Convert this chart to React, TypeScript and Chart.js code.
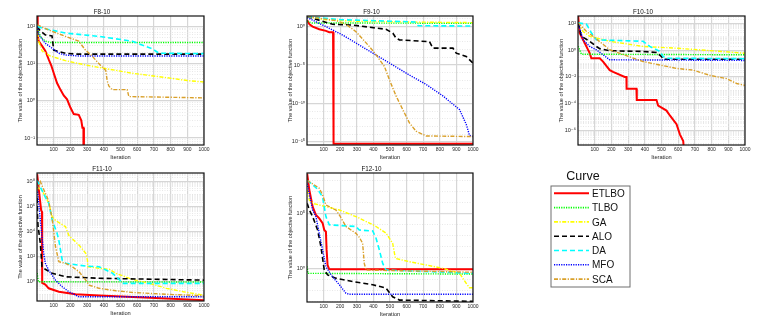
import React, { useEffect, useRef } from 'react';
import { Chart, registerables } from 'chart.js';
Chart.register(...registerables);

type P = [number, number];

const SERIES = ['ETLBO', 'TLBO', 'GA', 'ALO', 'DA', 'MFO', 'SCA'];
const ITER_TICKS = [100, 200, 300, 400, 500, 600, 700, 800, 900, 1000];

// ---- F8-10 ----
const F8_ETLBO: P[] = [[1,190],[4,60],[10,40],[30,30],[50,22],[70,13],[85,9],[100,5.6],[120,3],[140,2],[160,1.4],[180,1.1],[200,0.66],[220,0.44],[250,0.42],[265,0.3],[272,0.19],[278,0.19],[281,1e-6]];
const F8_TLBO: P[] = [[1,110],[10,70],[25,50],[50,40],[80,37],[1000,37]];
const F8_GA: P[] = [[1,110],[10,40],[30,22],[80,16],[170,12],[300,9],[400,7.5],[570,5.5],[775,4.2],[900,3.5],[1000,3.2]];
const F8_ALO: P[] = [[1,100],[20,75],[50,59],[90,55],[100,23],[170,19],[230,18],[1000,18]];
const F8_DA: P[] = [[1,100],[30,90],[170,66],[370,54],[570,40],[690,25],[730,19],[1000,18.5]];
const F8_MFO: P[] = [[1,100],[10,60],[50,35],[90,26],[130,19],[170,17],[250,16],[1000,16]];
const F8_SCA: P[] = [[1,110],[70,80],[170,54],[250,40],[290,23],[330,16],[370,10],[412,6.5],[420,3.5],[430,2.5],[450,2],[540,2],[550,1.3],[1000,1.2]];

// ---- F9-10 ----
const F9_ETLBO: P[] = [[1,7],[15,2],[34,1],[74,0.45],[114,0.28],[134,0.19],[157,0.19],[160,6e-16],[1000,6e-16]];
const F9_TLBO: P[] = [[1,5],[30,3],[1000,2.7]];
const F9_GA: P[] = [[1,20],[100,8],[300,5],[600,4],[1000,3.3]];
const F9_ALO: P[] = [[1,20],[154,2],[275,1.6],[476,0.45],[517,0.14],[537,0.03],[557,0.019],[738,0.011],[758,1.6e-3],[879,1.6e-3],[899,3.5e-4],[959,1.3e-4],[1000,1.8e-5]];
const F9_DA: P[] = [[1,20],[200,8],[500,5],[650,4],[670,1.3],[1000,1.2]];
const F9_MFO: P[] = [[1,15],[114,1],[215,0.08],[315,4e-3],[416,2e-4],[517,1e-5],[617,5e-7],[718,3e-8],[818,1e-9],[919,1.6e-11],[959,2e-13],[979,7e-15],[1000,5e-15]];
const F9_SCA: P[] = [[1,20],[175,6],[235,2],[295,0.22],[376,2.5e-3],[416,2.2e-4],[466,6.8e-6],[496,1.3e-7],[537,9e-10],[577,1.6e-11],[617,3e-13],[657,2.5e-14],[718,6e-15],[1000,5e-15]];

// ---- F10-10 ----
const F10_ETLBO: P[] = [[1,360],[10,19],[40,3.4],[70,0.6],[80,0.25],[130,0.25],[150,0.14],[190,0.032],[210,0.024],[280,0.01],[290,0.01],[291,1.3e-3],[350,1.3e-3],[352,1.9e-4],[470,1.9e-4],[480,7e-5],[530,3e-5],[550,1.3e-5],[590,2.9e-6],[610,5e-7],[630,1.6e-7],[645,1e-9]];
const F10_TLBO: P[] = [[1,2],[20,0.5],[1000,0.45]];
const F10_GA: P[] = [[1,110],[30,25],[70,11],[190,4.6],[390,1.9],[590,1.4],[790,0.93],[1000,0.59]];
const F10_ALO: P[] = [[1,110],[20,11],[70,4.6],[110,1.9],[130,1.3],[190,0.9],[390,0.8],[470,0.66],[500,0.33],[510,0.21],[1000,0.21]];
const F10_DA: P[] = [[1,110],[50,90],[80,20],[110,6],[390,4.6],[430,1.9],[490,0.8],[510,0.33],[530,0.25],[1000,0.23]];
const F10_MFO: P[] = [[1,110],[30,6],[70,1.9],[110,1.07],[150,0.45],[190,0.19],[1000,0.17]];
const F10_SCA: P[] = [[1,110],[50,26],[90,11],[190,1.07],[390,0.14],[490,0.078],[590,0.043],[690,0.032],[790,0.013],[890,7.4e-3],[950,3.2e-3],[1000,2.3e-3]];

// ---- F11-10 ----
const F11_ETLBO: P[] = [[1,4e8],[10,3e7],[25,5e5],[30,4e5],[31,0.8],[50,0.6],[70,0.3],[131,0.16],[231,0.1],[372,0.08],[574,0.06],[1000,0.034]];
const F11_TLBO: P[] = [[1,5],[8,1],[1000,0.95]];
const F11_GA: P[] = [[1,4e7],[30,2e7],[70,2e6],[91,1.6e5],[111,8e4],[171,2.5e4],[191,5e3],[252,850],[292,190],[302,54],[304,16],[372,12],[433,10],[473,4.7],[574,1.5],[674,0.74],[775,0.3],[876,0.16],[1000,0.085]];
const F11_ALO: P[] = [[1,5e6],[3,2e5],[6,3e4],[20,1.2e3],[30,16],[50,10],[91,4.7],[171,2.5],[372,1.9],[1000,1.35]];
const F11_DA: P[] = [[1,1.3e8],[30,2e7],[50,6e6],[70,2e6],[91,8.5e4],[121,7e3],[131,2e3],[151,54],[171,30],[292,18],[372,16],[453,4.7],[493,1.5],[513,0.74],[1000,0.74]];
const F11_MFO: P[] = [[1,4e7],[10,2e6],[20,8e4],[30,4e3],[40,190],[50,30],[70,8.5],[111,1.35],[151,0.4],[191,0.16],[231,0.085],[252,0.063],[1000,0.063]];
const F11_SCA: P[] = [[1,2e7],[20,1e8],[50,1.2e7],[70,3e6],[91,1e5],[111,630],[131,40],[171,30],[211,16],[252,6.3],[292,1.35],[312,0.54],[372,0.3],[473,0.19],[574,0.14],[775,0.1],[1000,0.076]];

// ---- F12-10 ----
const F12_ETLBO: P[] = [[1,4e8],[14,1.3e7],[34,4e5],[54,7e4],[74,3.5e4],[94,1.3e4],[104,3e3],[114,2.1e3],[118,50],[124,2],[134,0.81],[1000,0.81]];
const F12_TLBO: P[] = [[1,1.5],[5,0.35],[1000,0.3]];
const F12_GA: P[] = [[1,1.3e7],[14,1.6e6],[34,8e5],[114,4e5],[195,2e5],[295,5e4],[376,1.3e4],[416,6.3e3],[476,1.6e3],[516,190],[527,23],[533,8],[617,4],[718,2],[818,1],[919,0.35],[959,0.044],[979,0.017],[1000,0.017]];
const F12_ALO: P[] = [[1,8e5],[14,2e5],[34,5e4],[64,3e3],[84,93],[104,0.7],[124,0.25],[174,0.126],[275,0.063],[396,0.032],[476,0.016],[516,2.6e-3],[557,1.3e-3],[1000,1e-3]];
const F12_DA: P[] = [[1,1e8],[34,4e7],[64,1.5e7],[94,3e6],[114,5e4],[134,9e3],[295,6.3e3],[315,3e3],[396,2.5e3],[416,540],[436,47],[456,2.8],[476,0.7],[1000,0.35]];
const F12_MFO: P[] = [[1,5e7],[34,2e5],[54,5e4],[74,1.5e3],[94,47],[114,1.4],[154,0.17],[195,0.032],[235,5.4e-3],[255,4.4e-3],[1000,4.4e-3]];
const F12_SCA: P[] = [[1,1e8],[74,1.9e7],[94,4.7e6],[114,5.7e5],[174,2e5],[195,7e4],[235,6.3e3],[295,1.5e3],[315,660],[335,190],[345,2.8],[356,0.7],[1000,0.44]];

const F8_SET = [F8_ETLBO, F8_TLBO, F8_GA, F8_ALO, F8_DA, F8_MFO, F8_SCA];
const F9_SET = [F9_ETLBO, F9_TLBO, F9_GA, F9_ALO, F9_DA, F9_MFO, F9_SCA];
const F10_SET = [F10_ETLBO, F10_TLBO, F10_GA, F10_ALO, F10_DA, F10_MFO, F10_SCA];
const F11_SET = [F11_ETLBO, F11_TLBO, F11_GA, F11_ALO, F11_DA, F11_MFO, F11_SCA];
const F12_SET = [F12_ETLBO, F12_TLBO, F12_GA, F12_ALO, F12_DA, F12_MFO, F12_SCA];

// ---- styling / layout ----
const STYLE = [
  { color: '#ff0000', width: 2, dash: [] as number[] },
  { color: '#00ff00', width: 1.4, dash: [1.2, 1.2] },
  { color: '#ffff00', width: 1.4, dash: [4, 1.5, 1.2, 1.5] },
  { color: '#000000', width: 1.6, dash: [5, 3] },
  { color: '#00ffff', width: 1.6, dash: [5, 3] },
  { color: '#0000ff', width: 1.4, dash: [1.2, 1.2] },
  { color: '#d9a02a', width: 1.4, dash: [4, 1.5, 1.2, 1.5] },
];

const PANELS = [
  { title: 'F8-10', L: 37, T: 16, R: 204, B: 145, yMin: 0.065, yMax: 190, labeled: [-1, 0, 1, 2], full: true, set: F8_SET },
  { title: 'F9-10', L: 307, T: 16, R: 473, B: 145, yMin: 4e-16, yMax: 24, labeled: [-15, -10, -5, 0], full: false, set: F9_SET },
  { title: 'F10-10', L: 578, T: 16, R: 745, B: 145, yMin: 8e-8, yMax: 360, labeled: [-6, -4, -2, 0, 2], full: true, set: F10_SET },
  { title: 'F11-10', L: 37, T: 173, R: 204, B: 301, yMin: 0.029, yMax: 5e8, labeled: [0, 2, 4, 6, 8], full: true, set: F11_SET },
  { title: 'F12-10', L: 307, T: 173, R: 473, B: 302, yMin: 8.7e-4, yMax: 4.6e8, labeled: [0, 5], full: false, set: F12_SET },
];

const FONT = "'Liberation Sans', 'DejaVu Sans', Arial, sans-serif";
const TXT = '#262626';
const PAD_L = 37, PAD_T = 16, PAD_B = 20, PAD_R = 8;

const SUP: Record<string, string> = { '-': '⁻', '0': '⁰', '1': '¹', '2': '²', '3': '³', '4': '⁴', '5': '⁵', '6': '⁶', '7': '⁷', '8': '⁸', '9': '⁹' };
const sup = (n: number) => String(n).split('').map((c) => SUP[c] || c).join('');

function decadeOf(v: number): number | null {
  const l = Math.log10(v);
  const e = Math.round(l);
  return Math.abs(l - e) < 1e-6 ? e : null;
}

function yTickValues(min: number, max: number, full: boolean): number[] {
  const out: number[] = [];
  const e0 = Math.floor(Math.log10(min));
  const e1 = Math.ceil(Math.log10(max));
  for (let e = e0; e <= e1; e++) {
    const ms = full ? [1, 2, 3, 4, 5, 6, 7, 8, 9] : [1];
    for (const m of ms) {
      const v = m * Math.pow(10, e);
      if (v >= min && v <= max) out.push(v);
    }
  }
  return out;
}

const framePlugin = {
  id: 'frame',
  afterDatasetsDraw(chart: any) {
    const { ctx, chartArea } = chart;
    const { left, top, right, bottom } = chartArea;
    ctx.save();
    ctx.strokeStyle = '#141414';
    ctx.lineWidth = 1.2;
    ctx.setLineDash([]);
    ctx.strokeRect(left, top, right - left, bottom - top);
    ctx.restore();
  },
};

function Panel({ p }: { p: (typeof PANELS)[number] }) {
  const ref = useRef<HTMLCanvasElement>(null);
  const w = PAD_L + (p.R - p.L) + PAD_R;
  const h = PAD_T + (p.B - p.T) + PAD_B;
  useEffect(() => {
    const yVals = yTickValues(p.yMin, p.yMax, p.full);
    const isMajorY = (v: number) => {
      const e = decadeOf(v);
      return e !== null && p.labeled.includes(e);
    };
    const chart = new Chart(ref.current as HTMLCanvasElement, {
      type: 'line',
      data: {
        datasets: p.set.map((arr, i) => ({
          label: SERIES[i],
          data: arr.map(([x, y]) => ({ x, y })),
          borderColor: STYLE[i].color,
          borderWidth: STYLE[i].width,
          borderDash: STYLE[i].dash,
          pointRadius: 0,
          fill: false,
          tension: 0,
          order: -i,
        })),
      },
      options: {
        animation: false,
        responsive: false,
        events: [],
        layout: { padding: { left: 0, right: PAD_R, top: 0, bottom: 0 } },
        plugins: {
          legend: { display: false },
          tooltip: { enabled: false },
          title: {
            display: true,
            text: p.title,
            color: '#111',
            font: { family: FONT, size: 6.3, lineHeight: 1, weight: 'normal' },
            padding: { top: 8.85, bottom: 0.85 },
          },
        },
        scales: {
          x: {
            type: 'linear',
            min: 0,
            max: 1000,
            afterBuildTicks: (s: any) => {
              s.ticks = ITER_TICKS.map((v) => ({ value: v }));
            },
            afterFit: (s: any) => {
              s.height = PAD_B;
            },
            ticks: {
              autoSkip: false,
              maxRotation: 0,
              padding: 2,
              color: TXT,
              font: { family: FONT, size: 5 },
              callback: (v: any) => String(v),
            },
            grid: { color: '#d6d6d6', lineWidth: 1.2, drawTicks: false },
            border: { display: false },
            title: {
              display: true,
              text: 'Iteration',
              color: TXT,
              font: { family: FONT, size: 5.7 },
              padding: { top: 0, bottom: 4.6 },
            },
          },
          y: {
            type: 'logarithmic',
            min: p.yMin,
            max: p.yMax,
            afterBuildTicks: (s: any) => {
              s.ticks = yVals.map((v) => ({ value: v }));
            },
            afterFit: (s: any) => {
              s.width = PAD_L;
            },
            ticks: {
              autoSkip: false,
              padding: 2,
              color: TXT,
              font: { family: FONT, size: 5.5 },
              callback: (v: any) => {
                const e = decadeOf(Number(v));
                return e !== null && p.labeled.includes(e) ? '10' + sup(e) : '';
              },
            },
            grid: {
              drawTicks: false,
              color: (ctx: any) => (isMajorY(ctx.tick.value) ? '#d6d6d6' : '#e2e2e2'),
              lineWidth: (ctx: any) => (isMajorY(ctx.tick.value) ? 1.2 : 0.8),
            },
            border: {
              display: false,
              dash: (ctx: any) => (ctx.tick && isMajorY(ctx.tick.value) ? [] : [1, 1.5]),
            },
            title: {
              display: true,
              text: 'The value of the objective function',
              color: TXT,
              font: { family: FONT, size: 5.5 },
              padding: { top: 16.7, bottom: 0 },
            },
          },
        },
      } as any,
      plugins: [framePlugin],
    });
    return () => chart.destroy();
  }, []);
  return (
    <canvas
      ref={ref}
      width={w}
      height={h}
      style={{ position: 'absolute', left: p.L - PAD_L, top: p.T - PAD_T, width: w, height: h }}
    />
  );
}

function Legend() {
  return (
    <svg width={768} height={326} style={{ position: 'absolute', left: 0, top: 0 }}>
      <text x={583} y={179.5} textAnchor="middle" fontSize={12.5} fontFamily={FONT} fill="#111">
        Curve
      </text>
      <rect x={551} y={186} width={79} height={101} fill="#fff" stroke="#6e6e6e" strokeWidth={1} />
      {SERIES.map((s, i) => {
        const y = 193.3 + i * 14.3;
        return (
          <g key={s}>
            <line
              x1={554}
              x2={589}
              y1={y}
              y2={y}
              stroke={STYLE[i].color}
              strokeWidth={i === 0 ? 2 : 1.6}
              strokeDasharray={STYLE[i].dash.length ? STYLE[i].dash.join(' ') : undefined}
            />
            <text x={592} y={y + 3.6} fontSize={10} fontFamily={FONT} fill="#111">
              {s}
            </text>
          </g>
        );
      })}
    </svg>
  );
}

export default function App() {
  return (
    <div style={{ position: 'fixed', left: 0, top: 0, width: 768, height: 326, background: '#fff', overflow: 'hidden' }}>
      {PANELS.map((p) => (
        <Panel key={p.title} p={p} />
      ))}
      <Legend />
    </div>
  );
}
